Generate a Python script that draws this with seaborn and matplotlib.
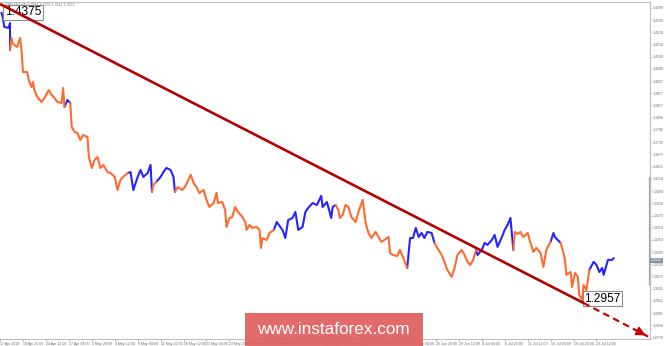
import matplotlib
matplotlib.use("Agg")
import matplotlib.pyplot as plt
from matplotlib.patches import Rectangle
import numpy as np
import pandas as pd
import seaborn as sns

# ---------------- data ----------------
bars = [1, 2, 3, 6, 7, 7,
        8, 9, 12, 14, 15, 16, 19, 20, 22, 23, 24, 26, 29, 31, 34, 36, 38, 40, 43, 44, 45,
        47, 49,
        50, 52, 54, 56, 58, 61, 62, 64, 66, 68, 70, 72, 75, 77, 80, 82, 84, 86, 89,
        91, 93, 96, 98, 100, 103, 105, 106,
        107, 109,
        112, 114, 116, 119, 121, 122,
        124, 127, 129, 133, 135, 137, 139, 142, 144, 146, 149, 151, 152, 155, 157, 158,
        160, 162, 164, 166, 169, 171, 172, 174, 176, 179, 181, 182, 183, 186, 188, 191,
        193, 197, 199, 201, 204, 206, 208, 211, 213, 215, 218, 221, 224, 225, 228, 231, 232, 234,
        236, 237, 239, 241, 243, 245, 248, 250, 253, 255, 257, 259, 262, 264, 266, 268, 271,
        272, 274, 277, 279, 281, 284,
        286, 288, 290, 292, 294, 296, 298, 301, 303,
        305, 308, 310, 312, 315, 317, 319, 322, 324, 326, 328, 330, 332,
        333, 336, 338, 340, 343, 345, 347, 350, 352, 354, 356, 358,
        359, 361, 363, 365, 368, 370, 372, 374, 377, 379, 381, 384,
        386, 387, 389, 391,
        393, 394, 395, 398, 399, 401, 403, 404, 406, 407, 409, 411,
        414, 416, 418, 420, 421, 423, 424, 427, 428]
prices = [1.4375, 1.4349, 1.4305, 1.4300, 1.4324, 1.4191,
          1.4250, 1.4221, 1.4206, 1.4250, 1.4191, 1.4082, 1.4082, 1.4043, 1.4008, 1.4033, 1.3993,
          1.3959, 1.3934, 1.3954, 1.3993, 1.3969, 1.3954, 1.3934, 1.3929, 1.4003, 1.3909,
          1.3944, 1.3929,
          1.3811, 1.3786, 1.3781, 1.3746, 1.3771, 1.3761, 1.3662, 1.3608, 1.3648, 1.3662, 1.3608,
          1.3623, 1.3588, 1.3583, 1.3564, 1.3499, 1.3549, 1.3564, 1.3583,
          1.3588, 1.3499, 1.3564, 1.3598, 1.3564, 1.3583, 1.3623, 1.3490,
          1.3524, 1.3539,
          1.3564, 1.3588, 1.3608, 1.3598, 1.3564, 1.3490,
          1.3514, 1.3499, 1.3514, 1.3574, 1.3534, 1.3514, 1.3485, 1.3499, 1.3450, 1.3415, 1.3435,
          1.3485, 1.3435, 1.3440, 1.3401, 1.3317,
          1.3361, 1.3366, 1.3415, 1.3391, 1.3366, 1.3341, 1.3302, 1.3327, 1.3312, 1.3317, 1.3302,
          1.3213, 1.3262, 1.3252, 1.3287, 1.3302,
          1.3341, 1.3302, 1.3262, 1.3351, 1.3361, 1.3391, 1.3302, 1.3317, 1.3391, 1.3411, 1.3435,
          1.3425, 1.3470, 1.3415, 1.3440, 1.3361, 1.3415, 1.3425,
          1.3401, 1.3361, 1.3376, 1.3425, 1.3415, 1.3366, 1.3341, 1.3391, 1.3450, 1.3336, 1.3287,
          1.3262, 1.3292, 1.3267, 1.3243, 1.3252, 1.3267,
          1.3188, 1.3178, 1.3173, 1.3203, 1.3168, 1.3114,
          1.3262, 1.3262, 1.3312, 1.3267, 1.3287, 1.3262, 1.3292, 1.3287, 1.3238,
          1.3213, 1.3178, 1.3144, 1.3104, 1.3070, 1.3114, 1.3178, 1.3203, 1.3178, 1.3144, 1.3129,
          1.3154, 1.3203,
          1.3178, 1.3203, 1.3238, 1.3228, 1.3252, 1.3277, 1.3218, 1.3267, 1.3302, 1.3327, 1.3361,
          1.3203,
          1.3292, 1.3282, 1.3292, 1.3267, 1.3287, 1.3238, 1.3193, 1.3213, 1.3188, 1.3119, 1.3203,
          1.3243,
          1.3287, 1.3267, 1.3252, 1.3238,
          1.3188, 1.3154, 1.3080, 1.3094, 1.3020, 1.3089, 1.3070, 1.2981, 1.2957, 1.3030, 1.3005,
          1.3104,
          1.3144, 1.3129, 1.3094, 1.3114, 1.3080, 1.3129, 1.3154, 1.3154, 1.3163]
waves = (["blue"] * 6 + ["orange"] * 21 + ["blue"] * 2 + ["orange"] * 19 + ["blue"] * 8
         + ["orange"] * 2 + ["blue"] * 6 + ["orange"] * 32 + ["blue"] * 18 + ["orange"] * 23
         + ["blue"] * 9 + ["orange"] * 13 + ["blue"] * 12 + ["orange"] * 12 + ["blue"] * 4
         + ["orange"] * 12 + ["blue"] * 9)

trend_bars = [0, 407, 452]
trend_prices = [1.4418, 1.2941, 1.2775]

high_label = "1.4375"
low_label = "1.2957"
current_price = 1.3152
current_label = "1.3152"

ytick_labels = ['1.4399', '1.4339', '1.4278', '1.4218', '1.4158', '1.4098', '1.4037',
                '1.3977', '1.3917', '1.3856', '1.3796', '1.3735', '1.3675', '1.3615',
                '1.3554', '1.3494', '1.3434', '1.3373', '1.3313', '1.3253', '1.3192',
                '1.3132', '1.3072', '1.3011', '1.2951', '1.2891', '1.2830', '1.2770']
xtick_labels = ['17 Apr 2018', '19 Apr 20:00', '24 Apr 12:00', '27 Apr 04:00', '1 May 20:00',
                '4 May 12:00', '9 May 04:00', '11 May 20:00', '16 May 12:00', '21 May 04:00',
                '23 May 20:00', '28 May 12:00', '31 May 04:00', '4 Jun 20:00', '7 Jun 12:00',
                '12 Jun 04:00', '14 Jun 20:00', '19 Jun 12:00', '22 Jun 04:00', '26 Jun 20:00',
                '29 Jun 12:00', '4 Jul 04:00', '6 Jul 20:00', '11 Jul 12:00', '16 Jul 04:00',
                '18 Jul 20:00', '23 Jul 12:00']
bars_per_label = 16
header = "GBPUSD,H4  1.3142 1.3156 1.3141 1.3152"
watermark = "www.instaforex.com"

# ---------------- build segments ----------------
rows = []
seg = 0
for i, (b, p, w) in enumerate(zip(bars, prices, waves)):
    if i > 0 and w != waves[i - 1]:
        seg += 1
        rows.append((bars[i - 1], prices[i - 1], w, seg))
    rows.append((b, p, w, seg))
df = pd.DataFrame(rows, columns=["bar", "price", "wave", "seg"])

# ---------------- plot ----------------
sns.set_theme(style="white")
plt.rcParams["font.family"] = ["Liberation Sans", "DejaVu Sans"]

fig = plt.figure(figsize=(6.65, 3.46), dpi=100)
ax = fig.add_axes([0.0, 0.0202, 0.9774, 0.9740])

sns.lineplot(data=df, x="bar", y="price", hue="wave", units="seg", estimator=None,
             sort=False, palette={"blue": "#2424ff", "orange": "#ff6a2e"},
             lw=1.5, legend=False, ax=ax, zorder=3)

slope = (trend_prices[1] - trend_prices[2]) / (trend_bars[2] - trend_bars[1])
ax.plot(trend_bars[:2], trend_prices[:2], color="#b30000", lw=1.9,
        solid_capstyle="butt", zorder=5)
ax.plot(trend_bars[1:], trend_prices[1:], color="#cc0000", lw=1.6,
        ls=(0, (3, 2)), zorder=5)
ax.annotate("", xy=(trend_bars[2], trend_prices[2]),
            xytext=(trend_bars[2] - 8, trend_prices[2] + 8 * slope),
            arrowprops=dict(arrowstyle="-|>", color="#cc0000", lw=1.4, mutation_scale=13),
            zorder=6)

box = dict(boxstyle="square,pad=0.12", fc="white", ec="#8c8c8c", lw=0.8)
hi = int(np.argmax(prices))
lo = int(np.argmin(prices))
ax.annotate(high_label, xy=(bars[hi], prices[hi]), xytext=(2.5, 0.4), textcoords="offset points",
            fontsize=8.6, color="black", va="center", ha="left", bbox=box, zorder=4)
ax.annotate(low_label, xy=(bars[lo], prices[lo]), xytext=(1.5, 0.6), textcoords="offset points",
            fontsize=8.6, color="black", va="center", ha="left", bbox=box, zorder=4)

ax.set_xlim(0, 453.3)
ax.set_ylim(1.2763, 1.4428)

ax.yaxis.tick_right()
ax.set_yticks([float(t) for t in ytick_labels])
ax.set_yticklabels(ytick_labels)
ax.set_xticks(np.arange(len(xtick_labels)) * bars_per_label)
ax.set_xticklabels(xtick_labels, ha="left")
ax.tick_params(axis="y", labelsize=2.5, colors="#666666", length=1.0, width=0.4, pad=0.8,
               right=True, left=False)
ax.tick_params(axis="x", labelsize=2.6, colors="#666666", length=1.5, width=0.4, pad=0.8,
               bottom=True)
ax.set_xlabel("")
ax.set_ylabel("")
for s in ax.spines.values():
    s.set_color("#b8c0c8")
    s.set_linewidth(0.8)
ax.spines["left"].set_visible(False)

# current price marker and right-axis scroll mark
ax.annotate(current_label, xy=(1, current_price), xycoords=("axes fraction", "data"),
            xytext=(0.8, 0), textcoords="offset points", fontsize=2.5, color="white",
            va="center", ha="left",
            bbox=dict(boxstyle="square,pad=0.2", fc="#8494a8", ec="none"), annotation_clip=False)
ax.plot([1, 1], [0.16, 0.478], transform=ax.transAxes, color="#9aa4b0", lw=1.6,
        clip_on=False, zorder=1)

fig.text(0.008, 0.994, header, fontsize=2.6, color="#777777", va="top", ha="left")

fig.patches.append(Rectangle((245 / 665, 0), 178 / 665, 33 / 346, transform=fig.transFigure,
                             fc="#e05a5a", alpha=0.9, ec="none", zorder=10))
fig.text(0.502, 0.047, watermark, color="white", fontsize=12.3, ha="center", va="center",
         zorder=11)

fig.savefig("out.png", dpi=100)
